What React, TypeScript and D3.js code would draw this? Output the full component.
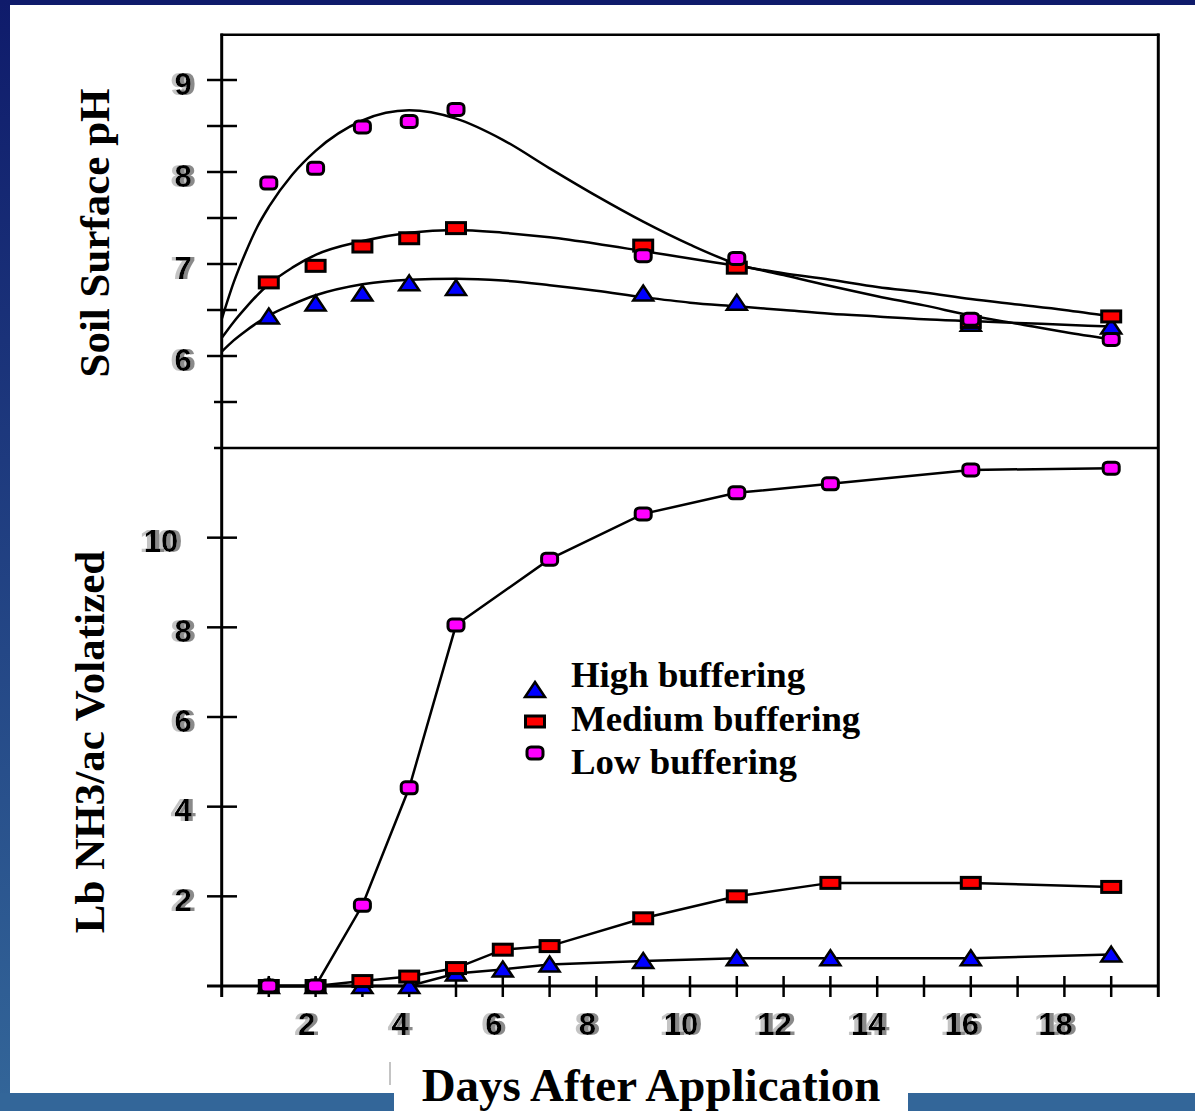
import React from 'react';
import * as d3 from 'd3';

const W = 1195;
const H = 1111;

// top panel: soil surface pH readings
const phDays = [1, 2, 3, 4, 5, 9, 11, 16, 19];
const phHigh = [6.43, 6.57, 6.68, 6.79, 6.74, 6.68, 6.58, 6.35, 6.32];
const phMedium = [6.8, 6.98, 7.19, 7.28, 7.39, 7.2, 6.96, 6.37, 6.43];
const phLow = [7.88, 8.04, 8.49, 8.55, 8.68, 7.09, 7.06, 6.4, 6.18];

// fitted curves
const fitDays = [0, 0.25, 0.5, 0.75, 1, 1.5, 2, 3, 4, 5, 6, 7, 8, 9, 10, 11, 12, 13, 14, 15, 16, 17, 18, 19];
const fitHigh = [6.05, 6.17, 6.27, 6.36, 6.44, 6.56, 6.66, 6.78, 6.83, 6.84, 6.82, 6.77, 6.71, 6.64, 6.58, 6.54, 6.5, 6.46, 6.43, 6.4, 6.38, 6.36, 6.34, 6.32];
const fitMedium = [6.2, 6.37, 6.52, 6.66, 6.78, 6.96, 7.1, 7.25, 7.34, 7.37, 7.34, 7.29, 7.22, 7.14, 7.06, 6.98, 6.9, 6.83, 6.75, 6.69, 6.62, 6.56, 6.5, 6.43];
const fitLow = [6.41, 6.8, 7.12, 7.4, 7.62, 7.97, 8.23, 8.56, 8.67, 8.58, 8.35, 8.04, 7.74, 7.46, 7.21, 7.0, 6.88, 6.76, 6.65, 6.55, 6.44, 6.35, 6.26, 6.18];

// bottom panel: lb NH3/ac volatized
const nhDays = [1, 2, 3, 4, 5, 6, 7, 9, 11, 13, 16, 19];
const nhHigh = [0, 0, 0, 0, 0.28, 0.37, 0.48, 0.56, 0.62, 0.62, 0.62, 0.7];
const nhMedium = [0, 0, 0.11, 0.21, 0.4, 0.81, 0.89, 1.51, 2.0, 2.3, 2.3, 2.21];
const nhLow = [0, 0, 1.8, 4.42, 8.05, null, 9.52, 10.53, 11.0, 11.2, 11.51, 11.55];

// ticks
const phLabelTicks = [9, 8, 7, 6];
const phHalfTicks = [8.5, 7.5, 6.5];
const phShortTicks = [5.5];
const nhLabelTicks = [10, 8, 6, 4, 2];
const dayTicks = d3.range(1, 20);
const dayLabels = [2, 4, 6, 8, 10, 12, 14, 16, 18];

const series = [
  { label: 'High buffering', color: '#0000ff', shape: 'tri', ph: phHigh, fit: fitHigh, nh: nhHigh },
  { label: 'Medium buffering', color: '#ff0000', shape: 'sq', ph: phMedium, fit: fitMedium, nh: nhMedium },
  { label: 'Low buffering', color: '#ff00ff', shape: 'rnd', ph: phLow, fit: fitLow, nh: nhLow },
];

const zip = (xs: number[], ys: (number | null)[]) =>
  xs.map((d, i) => [d, ys[i]] as [number, number | null]).filter(p => p[1] != null) as [number, number][];

const Marker = ({ shape, color, cx, cy }: { shape: string; color: string; cx: number; cy: number }) => {
  if (shape === 'tri')
    return <path d="M0,-8L10,7L-10,7Z" transform={`translate(${cx},${cy})`} fill={color} stroke="#000" strokeWidth={2.5} />;
  if (shape === 'sq')
    return <rect x={cx - 9.5} y={cy - 5.5} width={19} height={11} fill={color} stroke="#000" strokeWidth={3} />;
  return <rect x={cx - 8} y={cy - 6} width={16} height={12} rx={4} fill={color} stroke="#000" strokeWidth={3} />;
};

// bold tick numbers with the grey ghosting of the scan (done by a filter, one text each)
const TickText = ({ x, y, text }: { x: number; y: number; text: string }) => (
  <text x={x} y={y} fill="#000" filter="url(#ghost)" fontFamily="'Liberation Sans', Arial, sans-serif"
    fontWeight="bold" fontSize={31} textAnchor="middle">
    {text}
  </text>
);

export default function App() {
  const x = d3.scaleLinear().domain([0, 20]).range([222, 1158]);
  const yPh = d3.scaleLinear().domain([5, 9.5]).range([448, 34]);
  const yNh = d3.scaleLinear().domain([0, 12]).range([986, 448]);

  const fitLine = d3.line<[number, number]>()
    .x(d => x(d[0]))
    .y(d => yPh(d[1]))
    .curve(d3.curveMonotoneX);
  const nhLine = d3.line<[number, number]>()
    .x(d => x(d[0]))
    .y(d => yNh(d[1]));

  const serif = "'Liberation Serif', 'Times New Roman', serif";

  return (
    <svg width={W} height={H} style={{ position: 'absolute', left: 0, top: 0, display: 'block' }}>
      <defs>
        <linearGradient id="edge" x1="0" y1="0" x2="0" y2="1">
          <stop offset="0" stopColor="#0f1b6b" />
          <stop offset="1" stopColor="#336699" />
        </linearGradient>
        <filter id="ghost" x="-50%" y="-20%" width="200%" height="140%">
          <feOffset in="SourceAlpha" dx={-4} dy={0} result="l" />
          <feFlood floodColor="#c4c4c4" result="lc" />
          <feComposite in="lc" in2="l" operator="in" result="left" />
          <feOffset in="SourceAlpha" dx={4} dy={0} result="r" />
          <feFlood floodColor="#8a8a8a" result="rc" />
          <feComposite in="rc" in2="r" operator="in" result="right" />
          <feMerge>
            <feMergeNode in="left" />
            <feMergeNode in="right" />
            <feMergeNode in="SourceGraphic" />
          </feMerge>
        </filter>
      </defs>
      <rect width={W} height={H} fill="#fff" />
      <rect x={0} y={0} width={W} height={5} fill="#0f1b6b" />
      <rect x={0} y={0} width={10} height={H} fill="url(#edge)" />
      <rect x={0} y={1093} width={394} height={18} fill="#336699" />
      <rect x={908} y={1093} width={W - 908} height={18} fill="#336699" />
      <line x1={390} x2={390} y1={1062} y2={1085} stroke="#c4c4c4" strokeWidth={2} />

      {/* frame */}
      <line x1={220.5} x2={1159.5} y1={34.7} y2={34.7} stroke="#000" strokeWidth={2.5} />
      <line x1={221.7} x2={221.7} y1={33.5} y2={997} stroke="#000" strokeWidth={3} />
      <line x1={1158.3} x2={1158.3} y1={33.5} y2={997} stroke="#000" strokeWidth={3} />
      <line x1={214} x2={1158} y1={448} y2={448} stroke="#000" strokeWidth={2.5} />
      <line x1={207} x2={1158} y1={yNh(0)} y2={yNh(0)} stroke="#000" strokeWidth={3} />

      {/* y ticks */}
      {[...phLabelTicks, ...phHalfTicks].map(t => (
        <line key={'p' + t} x1={207} x2={237} y1={yPh(t)} y2={yPh(t)} stroke="#000" strokeWidth={2.5} />
      ))}
      {phShortTicks.map(t => (
        <line key={'s' + t} x1={214} x2={237} y1={yPh(t)} y2={yPh(t)} stroke="#000" strokeWidth={2.5} />
      ))}
      {nhLabelTicks.map(t => (
        <line key={'n' + t} x1={207} x2={237} y1={yNh(t)} y2={yNh(t)} stroke="#000" strokeWidth={2.5} />
      ))}
      {dayTicks.map(t => (
        <line key={'d' + t} x1={x(t)} x2={x(t)} y1={976} y2={997} stroke="#000" strokeWidth={2.5} />
      ))}

      {/* tick labels */}
      {phLabelTicks.map(t => (
        <TickText key={'pl' + t} x={183 - (String(t).length - 1) * 22} y={yPh(t) + 14.5} text={String(t)} />
      ))}
      {nhLabelTicks.map(t => (
        <TickText key={'nl' + t} x={183 - (String(t).length - 1) * 22} y={yNh(t) + 14.5} text={String(t)} />
      ))}
      {dayLabels.map(t => (
        <TickText key={'dl' + t} x={x(t) - 9} y={1035} text={String(t)} />
      ))}

      {/* axis titles */}
      <text transform="translate(109,233) rotate(-90)" textAnchor="middle" fontFamily={serif} fontWeight="bold" fontSize={43}>
        Soil Surface pH
      </text>
      <text transform="translate(104,742) rotate(-90)" textAnchor="middle" fontFamily={serif} fontWeight="bold" fontSize={43}>
        Lb NH3/ac Volatized
      </text>
      <text x={651} y={1101} textAnchor="middle" fontFamily={serif} fontWeight="bold" fontSize={47}>
        Days After Application
      </text>

      {/* top panel fitted curves */}
      {series.map(s => (
        <path key={'f' + s.label} d={fitLine(zip(fitDays, s.fit)) || ''} fill="none" stroke="#000" strokeWidth={2.5} />
      ))}
      {/* bottom panel lines */}
      {series.map(s => (
        <path key={'l' + s.label} d={nhLine(zip(nhDays, s.nh)) || ''} fill="none" stroke="#000" strokeWidth={2.5} />
      ))}

      {/* markers */}
      {series.map(s => (
        <g key={'m' + s.label}>
          {zip(phDays, s.ph).map(([d, v]) => (
            <Marker key={'a' + d} shape={s.shape} color={s.color} cx={x(d)} cy={yPh(v)} />
          ))}
          {zip(nhDays, s.nh).map(([d, v]) => (
            <Marker key={'b' + d} shape={s.shape} color={s.color} cx={x(d)} cy={yNh(v)} />
          ))}
        </g>
      ))}

      {/* legend */}
      {series.map((s, i) => (
        <g key={'lg' + s.label}>
          <Marker shape={s.shape} color={s.color} cx={535} cy={690 + i * 31.5} />
          <text x={571} y={687 + i * 43.5} fontFamily={serif} fontWeight="bold" fontSize={36.8}>
            {s.label}
          </text>
        </g>
      ))}
    </svg>
  );
}
